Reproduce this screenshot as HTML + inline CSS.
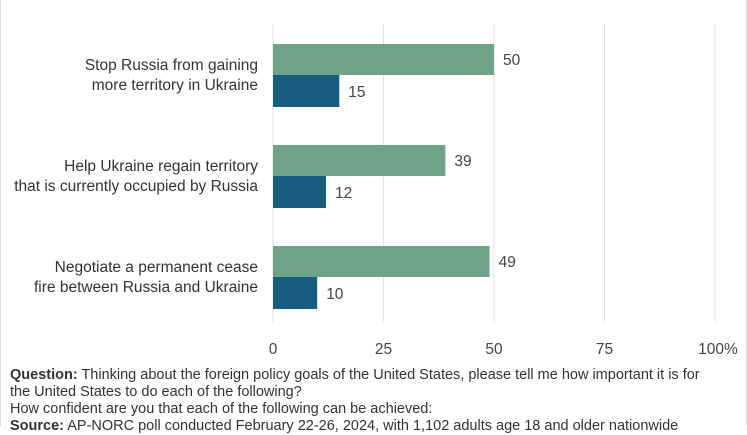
<!DOCTYPE html>
<html><head><meta charset="utf-8"><style>
body{margin:0;width:747px;height:426px;overflow:hidden;background:#fff;font-family:"Liberation Sans",sans-serif;position:relative}
.frame{position:absolute;top:0;bottom:0;width:1px;background:#ddd}
.note{position:absolute;left:10px;top:367px;width:735px;font-size:14.5px;line-height:17px;color:#333;white-space:nowrap}
</style></head><body>
<div class="frame" style="left:0"></div>
<div class="frame" style="left:746px"></div>
<svg id="chart" width="747" height="366" style="position:absolute;left:0;top:0"></svg>
<div class="note"><b>Question:</b> Thinking about the foreign policy goals of the United States, please tell me how important it is for<br>the United States to do each of the following?<br>How confident are you that each of the following can be achieved:<br><b>Source:</b> AP-NORC poll conducted February 22-26, 2024, with 1,102 adults age 18 and older nationwide</div>
<script>
const categories=[["Stop Russia from gaining","more territory in Ukraine"],["Help Ukraine regain territory","that is currently occupied by Russia"],["Negotiate a permanent cease","fire between Russia and Ukraine"]];
const importantValues=[50,39,49];
const confidentValues=[15,12,10];
const ticks=[0,25,50,75,100];
const tickLabels=["0","25","50","75","100%"];
const svg=document.getElementById('chart');const NS='http://www.w3.org/2000/svg';
const x=v=>273+v*4.42;
const groupTop=i=>44+i*101;
function mk(t,a,txt){const e=document.createElementNS(NS,t);for(const k in a)e.setAttribute(k,a[k]);if(txt!==undefined)e.textContent=txt;svg.appendChild(e);return e;}
ticks.forEach((t,i)=>{
const g=mk('line',{x1:x(t),x2:x(t),y1:24,y2:322,stroke:'#e2e2e2','stroke-width':1});


const l=mk('text',{x:x(t)+(i==4?3:0),y:354,'text-anchor':'middle','font-size':15.5,fill:'#444'},tickLabels[i]);


});
categories.forEach((c,i)=>{
const y0=groupTop(i);
const t=mk('text',{x:258,y:y0+26,'text-anchor':'end','font-size':15.5,fill:'#333'});


c.forEach((s,j)=>{const ts=document.createElementNS(NS,'tspan');ts.setAttribute('x',258);ts.setAttribute('dy',j?20:0);ts.textContent=s;t.appendChild(ts);});
const b1=mk('rect',{x:x(0),y:y0,width:x(importantValues[i])-x(0),height:31,fill:'#6fa287'});


const v1=mk('text',{x:x(importantValues[i])+9,y:y0+21,'font-size':15.5,fill:'#444'},importantValues[i]);


const b2=mk('rect',{x:x(0),y:y0+31,width:x(confidentValues[i])-x(0),height:32,fill:'#165d7e'});


const v2=mk('text',{x:x(confidentValues[i])+9,y:y0+53,'font-size':15.5,fill:'#444'},confidentValues[i]);


});
</script>
</body></html>
